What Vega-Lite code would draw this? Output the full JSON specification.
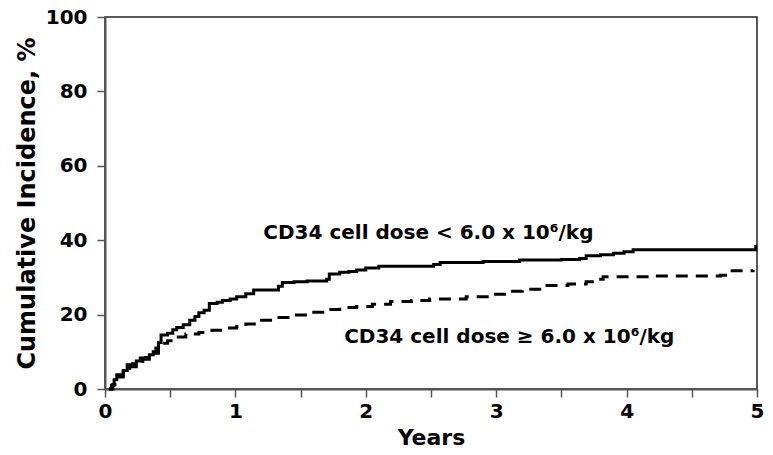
{
  "$schema": "https://vega.github.io/schema/vega-lite/v6.json",
  "autosize": "none",
  "width": 652,
  "height": 372,
  "padding": {"left": 105, "top": 17, "right": 16, "bottom": 66},
  "background": "white",
  "config": {
    "font": "DejaVu Sans",
    "view": {"stroke": "#222", "strokeWidth": 1.5},
    "axis": {"grid": false, "labelFont": "DejaVu Sans", "titleFont": "DejaVu Sans", "labelFontWeight": "bold", "titleFontWeight": "bold", "labelColor": "black", "titleColor": "black", "domainColor": "#555", "domainWidth": 2, "tickColor": "#555", "tickWidth": 1.5}
  },
  "datasets": {
    "curves": [
      {"group": "low", "years": 0.03, "pct": 0},
      {"group": "low", "years": 0.05, "pct": 1},
      {"group": "low", "years": 0.07, "pct": 2.5},
      {"group": "low", "years": 0.09, "pct": 3.8},
      {"group": "low", "years": 0.14, "pct": 5},
      {"group": "low", "years": 0.17, "pct": 6.5},
      {"group": "low", "years": 0.21, "pct": 6.8},
      {"group": "low", "years": 0.24, "pct": 7.5},
      {"group": "low", "years": 0.27, "pct": 8.3},
      {"group": "low", "years": 0.31, "pct": 8.5},
      {"group": "low", "years": 0.34, "pct": 9.2},
      {"group": "low", "years": 0.37, "pct": 10},
      {"group": "low", "years": 0.39, "pct": 11},
      {"group": "low", "years": 0.41, "pct": 12.5},
      {"group": "low", "years": 0.43, "pct": 14.5},
      {"group": "low", "years": 0.48, "pct": 15},
      {"group": "low", "years": 0.52, "pct": 15.9},
      {"group": "low", "years": 0.55, "pct": 16.5},
      {"group": "low", "years": 0.6, "pct": 17.3},
      {"group": "low", "years": 0.65, "pct": 18.5},
      {"group": "low", "years": 0.69, "pct": 19.5},
      {"group": "low", "years": 0.72, "pct": 20.5},
      {"group": "low", "years": 0.76, "pct": 21.2},
      {"group": "low", "years": 0.8, "pct": 23},
      {"group": "low", "years": 0.86, "pct": 23.3},
      {"group": "low", "years": 0.9, "pct": 23.8},
      {"group": "low", "years": 0.96, "pct": 24.2},
      {"group": "low", "years": 1.01, "pct": 24.8},
      {"group": "low", "years": 1.08, "pct": 25.6},
      {"group": "low", "years": 1.14, "pct": 26.6},
      {"group": "low", "years": 1.33, "pct": 27.6},
      {"group": "low", "years": 1.36, "pct": 28.6},
      {"group": "low", "years": 1.45, "pct": 28.8},
      {"group": "low", "years": 1.55, "pct": 29.0},
      {"group": "low", "years": 1.7, "pct": 29.5},
      {"group": "low", "years": 1.72, "pct": 30.9},
      {"group": "low", "years": 1.8, "pct": 31.4},
      {"group": "low", "years": 1.87, "pct": 31.6},
      {"group": "low", "years": 1.93, "pct": 32},
      {"group": "low", "years": 2.0, "pct": 32.5},
      {"group": "low", "years": 2.1, "pct": 33},
      {"group": "low", "years": 2.52, "pct": 33.5},
      {"group": "low", "years": 2.57, "pct": 34},
      {"group": "low", "years": 2.9, "pct": 34.3},
      {"group": "low", "years": 3.18, "pct": 34.7},
      {"group": "low", "years": 3.5, "pct": 34.8},
      {"group": "low", "years": 3.64, "pct": 35.1},
      {"group": "low", "years": 3.69, "pct": 35.8},
      {"group": "low", "years": 3.8, "pct": 36.1},
      {"group": "low", "years": 3.9, "pct": 36.5},
      {"group": "low", "years": 3.98, "pct": 36.9},
      {"group": "low", "years": 4.05, "pct": 37.4},
      {"group": "low", "years": 4.97, "pct": 37.4},
      {"group": "low", "years": 4.99, "pct": 38.7},
      {"group": "high", "years": 0.03, "pct": 0},
      {"group": "high", "years": 0.06, "pct": 1.2},
      {"group": "high", "years": 0.09, "pct": 3.2},
      {"group": "high", "years": 0.14, "pct": 4.5},
      {"group": "high", "years": 0.19, "pct": 6},
      {"group": "high", "years": 0.24, "pct": 7},
      {"group": "high", "years": 0.29, "pct": 8},
      {"group": "high", "years": 0.34, "pct": 8.8},
      {"group": "high", "years": 0.38, "pct": 9.6},
      {"group": "high", "years": 0.41, "pct": 11},
      {"group": "high", "years": 0.44, "pct": 12.3},
      {"group": "high", "years": 0.48, "pct": 13},
      {"group": "high", "years": 0.55, "pct": 14},
      {"group": "high", "years": 0.62, "pct": 14.8},
      {"group": "high", "years": 0.72, "pct": 15.2},
      {"group": "high", "years": 0.82, "pct": 15.8},
      {"group": "high", "years": 0.9, "pct": 16.4},
      {"group": "high", "years": 1.01, "pct": 16.8},
      {"group": "high", "years": 1.08, "pct": 17.5},
      {"group": "high", "years": 1.16, "pct": 18.5},
      {"group": "high", "years": 1.3, "pct": 19.2},
      {"group": "high", "years": 1.42, "pct": 19.9},
      {"group": "high", "years": 1.55, "pct": 20.6},
      {"group": "high", "years": 1.67, "pct": 21.4},
      {"group": "high", "years": 1.8, "pct": 21.9},
      {"group": "high", "years": 1.93, "pct": 22.2},
      {"group": "high", "years": 2.05, "pct": 22.8},
      {"group": "high", "years": 2.19, "pct": 23.5},
      {"group": "high", "years": 2.35, "pct": 23.8},
      {"group": "high", "years": 2.49, "pct": 24.2},
      {"group": "high", "years": 2.77, "pct": 24.8},
      {"group": "high", "years": 2.95, "pct": 25.5},
      {"group": "high", "years": 3.1, "pct": 26.3},
      {"group": "high", "years": 3.2, "pct": 26.8},
      {"group": "high", "years": 3.36, "pct": 27.8},
      {"group": "high", "years": 3.55, "pct": 28.2},
      {"group": "high", "years": 3.69, "pct": 28.8},
      {"group": "high", "years": 3.75, "pct": 29.5},
      {"group": "high", "years": 3.82, "pct": 30.2},
      {"group": "high", "years": 4.2, "pct": 30.4},
      {"group": "high", "years": 4.72, "pct": 30.6},
      {"group": "high", "years": 4.79, "pct": 31.8},
      {"group": "high", "years": 4.97, "pct": 32}
    ],
    "labels": [
      {"label": "CD34 cell dose < 6.0 x 10⁶/kg", "lx": 2.48, "ly": 41.9},
      {"label": "CD34 cell dose ≥ 6.0 x 10⁶/kg", "lx": 3.1, "ly": 14}
    ]
  },
  "layer": [
    {
      "data": {"name": "curves"},
      "transform": [{"filter": "datum.group === 'low'"}],
      "mark": {"type": "line", "interpolate": "step-after", "color": "black", "strokeWidth": 3},
      "encoding": {
        "x": {"field": "years", "type": "quantitative", "scale": {"domain": [0, 5], "nice": false},
          "axis": {"title": "Years", "values": [0, 0.5, 1, 1.5, 2, 2.5, 3, 3.5, 4, 4.5, 5], "labelExpr": "datum.value % 1 === 0 ? format(datum.value, 'd') : ''", "tickSize": 8, "labelFontSize": 20, "labelPadding": 4, "titleFontSize": 22, "titlePadding": 6, "labelFlush": false}},
        "y": {"field": "pct", "type": "quantitative", "scale": {"domain": [0, 100], "nice": false},
          "axis": {"title": "Cumulative Incidence, %", "values": [0, 10, 20, 30, 40, 50, 60, 70, 80, 90, 100], "labelExpr": "datum.value % 20 === 0 ? datum.label : ''", "tickSize": 8, "labelFontSize": 20, "labelPadding": 10, "titleFontSize": 24, "titlePadding": 6, "labelFlush": false}}
      }
    },
    {
      "data": {"name": "curves"},
      "transform": [{"filter": "datum.group === 'high'"}],
      "mark": {"type": "line", "interpolate": "step-after", "color": "black", "strokeWidth": 3, "strokeDash": [12, 8]},
      "encoding": {
        "x": {"field": "years", "type": "quantitative"},
        "y": {"field": "pct", "type": "quantitative"}
      }
    },
    {
      "data": {"name": "labels"},
      "mark": {"type": "text", "font": "DejaVu Sans", "fontWeight": "bold", "fontSize": 20, "align": "center", "baseline": "middle", "color": "black"},
      "encoding": {
        "x": {"field": "lx", "type": "quantitative"},
        "y": {"field": "ly", "type": "quantitative"},
        "text": {"field": "label", "type": "nominal"}
      }
    }
  ]
}
